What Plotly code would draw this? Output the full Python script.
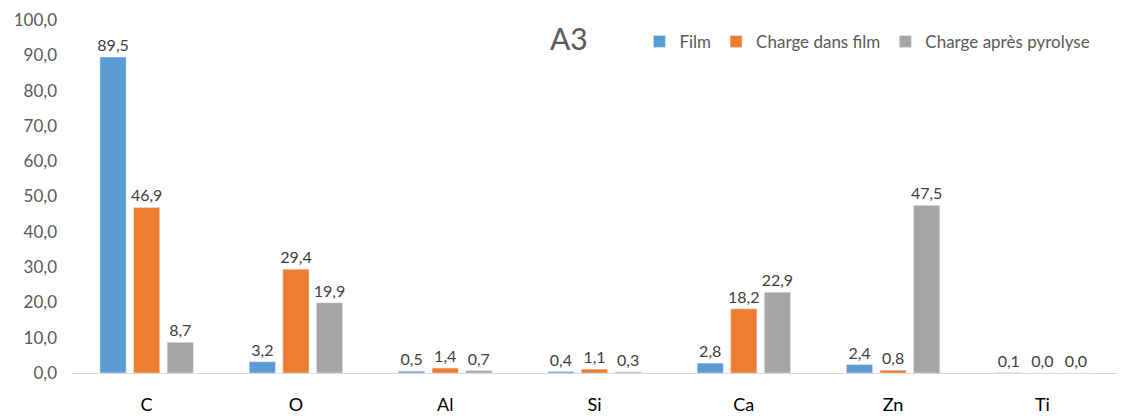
import plotly.graph_objects as go

categories = ["C", "O", "Al", "Si", "Ca", "Zn", "Ti"]
film = [89.5, 3.2, 0.5, 0.4, 2.8, 2.4, 0.1]
charge_film = [46.9, 29.4, 1.4, 1.1, 18.2, 0.8, 0.0]
charge_pyro = [8.7, 19.9, 0.7, 0.3, 22.9, 47.5, 0.0]
y_ticks = [0, 10, 20, 30, 40, 50, 60, 70, 80, 90, 100]

series = [
    ("Film", film, "#5B9BD5"),
    ("Charge dans film", charge_film, "#ED7D31"),
    ("Charge après pyrolyse", charge_pyro, "#A5A5A5"),
]

fig = go.Figure()
for name, vals, color in series:
    fig.add_trace(go.Bar(
        x=categories, y=vals, name=name, marker_color=color,
        text=vals, texttemplate="%{y:.1f}", textposition="outside",
        constraintext="none",
        textfont=dict(size=16, color="#404040", family="Lato"),
        cliponaxis=False,
    ))

fig.update_layout(
    width=1122, height=416,
    margin=dict(l=72, r=5, t=20, b=43),
    paper_bgcolor="white", plot_bgcolor="white",
    separators=", ",
    barmode="group", bargap=0.325, bargroupgap=0.22,
    font=dict(family="Lato", color="#595959"),
    showlegend=True,
    legend=dict(orientation="h", x=0.543, y=0.938, xanchor="left", yanchor="middle",
                yref="paper", font=dict(size=17, color="#595959"),
                itemwidth=30, tracegroupgap=0, bgcolor="rgba(0,0,0,0)"),
    annotations=[dict(text="A3", x=0.476, y=0.95, xref="paper", yref="paper",
                      xanchor="center", yanchor="middle",
                      showarrow=False, font=dict(size=30, color="#595959"))],
)
fig.update_yaxes(range=[0, 100], tickvals=y_ticks, tickformat=".1f",
                 showgrid=False, zeroline=False, showline=False, automargin=False,
                 tickfont=dict(size=17, color="#595959"), ticklabelstandoff=14)
fig.update_xaxes(showgrid=False, showline=True, linecolor="#D9D9D9", linewidth=1,
                 tickfont=dict(size=18, color="#000000"), ticks="", automargin=False,
                 ticklabelstandoff=15)

fig.write_html("out.html", config={"displayModeBar": False},
               post_script="document.body.style.margin='0px';document.body.style.overflow='hidden';")
